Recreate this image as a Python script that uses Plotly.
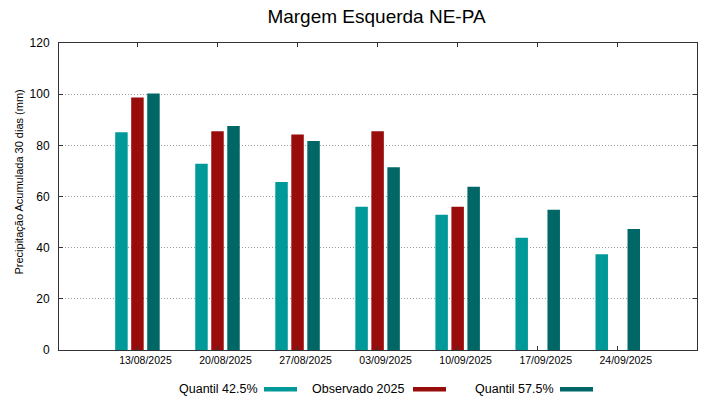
import plotly.graph_objects as go

# ---- data ----
dates = ["13/08/2025", "20/08/2025", "27/08/2025", "03/09/2025",
         "10/09/2025", "17/09/2025", "24/09/2025"]
quantil_425 = [85.1, 72.8, 65.7, 56.0, 52.9, 43.9, 37.4]
observado_2025 = [98.7, 85.5, 84.2, 85.5, 56.0, None, None]
quantil_575 = [100.3, 87.6, 81.7, 71.4, 63.8, 54.8, 47.3]
series_names = ["Quantil 42.5%", "Observado 2025", "Quantil 57.5%"]
series_colors = ["#009999", "#990c0c", "#006666"]
y_ticks = [0, 20, 40, 60, 80, 100, 120]

W, H = 719, 399
L, R, T, B = 59, 22, 43, 49
PW, PH = W - L - R, H - T - B

def px_x(x):
    return (x - L) / PW

def px_y(y):
    return (H - B - y) / PH

FONT = "Liberation Sans, Arial, sans-serif"

fig = go.Figure()
for name, vals, col in zip(series_names, [quantil_425, observado_2025, quantil_575], series_colors):
    fig.add_trace(go.Bar(x=list(range(len(dates))), y=vals, name=name,
                         marker=dict(color=col, line=dict(width=0)),
                         showlegend=False))

fig.update_layout(
    width=W, height=H,
    margin=dict(l=L, r=R, t=T, b=B, pad=0),
    paper_bgcolor="white", plot_bgcolor="white",
    barmode="group", bargap=0.4, bargroupgap=0.22,
    font=dict(family=FONT, color="black", size=12),
    title=dict(text="Margem Esquerda NE-PA", font=dict(size=19, color="black"),
               xref="container", x=376.5 / W, xanchor="center",
               yref="container", y=1 - 16 / H, yanchor="middle"),
)

fig.update_xaxes(
    tickmode="array", tickvals=list(range(len(dates))), ticktext=dates,
    range=[-0.98, 6.99],
    showline=True, linecolor="#333333", linewidth=1, mirror="ticks",
    ticks="inside", ticklen=4, tickcolor="#333333",
    tickfont=dict(size=10.5, color="black"),
    ticklabelshift=8,
    showgrid=False, zeroline=False,
)
fig.update_yaxes(
    range=[0, 120], tickvals=y_ticks,
    showline=True, linecolor="#333333", linewidth=1, mirror="ticks",
    ticks="inside", ticklen=4, tickcolor="#333333",
    tickfont=dict(size=12, color="black"),
    ticklabelstandoff=6,
    showgrid=True, gridcolor="#999999", gridwidth=1, griddash="1px,2px",
    zeroline=False,
)

# y axis title
fig.add_annotation(text="Precipitação Acumulada 30 dias (mm)", textangle=-90,
                   xref="paper", yref="paper", x=px_x(18.5), y=px_y(182),
                   xanchor="center", yanchor="middle", showarrow=False,
                   font=dict(size=11, color="black"))

# legend (text followed by sample, gnuplot style)
legend_text_x = [177, 310, 473]
legend_sample_x = [264, 413, 560]
for name, col, tx, sx in zip(series_names, series_colors, legend_text_x, legend_sample_x):
    fig.add_annotation(text=name, xref="paper", yref="paper",
                       x=px_x(tx), y=px_y(388.5), xanchor="left", yanchor="middle",
                       showarrow=False, font=dict(size=12.5, color="black"))
    fig.add_shape(type="rect", xref="paper", yref="paper",
                  x0=px_x(sx), x1=px_x(sx + 33), y0=px_y(387), y1=px_y(391.5),
                  fillcolor=col, line=dict(width=0))

fig.write_html("out.html",
               config={"displayModeBar": False},
               post_script="document.body.style.margin='0px';document.body.style.overflow='hidden';")
